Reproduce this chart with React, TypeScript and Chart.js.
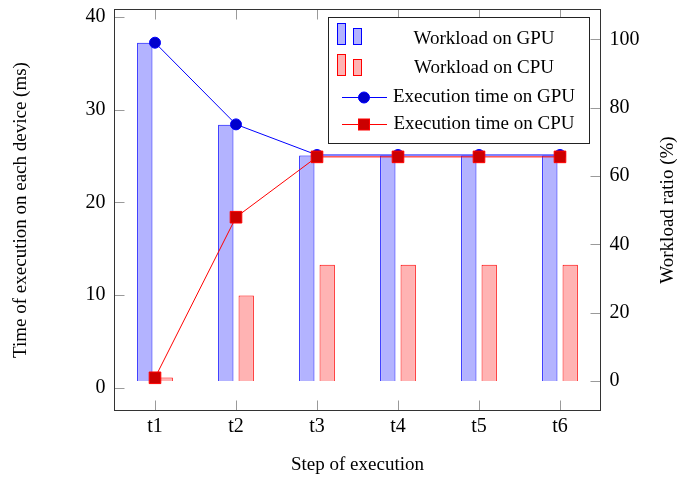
import React, { useEffect, useRef } from 'react';
import { Chart, registerables } from 'chart.js';

Chart.register(...registerables);

// Execution steps and measured values
const steps = ['t1', 't2', 't3', 't4', 't5', 't6'];
const gpuWorkload = [99, 75, 66, 66, 66, 66]; // % of work on GPU
const cpuWorkload = [1, 25, 34, 34, 34, 34]; // % of work on CPU
const gpuTime = [37.2, 28.4, 25.1, 25.1, 25.1, 25.1]; // ms
const cpuTime = [1.1, 18.4, 24.9, 24.9, 24.9, 24.9]; // ms

const timeTicks = [0, 10, 20, 30, 40];
const ratioTicks = [0, 20, 40, 60, 80, 100];

const labels = {
  gpuWork: 'Workload on GPU',
  cpuWork: 'Workload on CPU',
  gpuTime: 'Execution time on GPU',
  cpuTime: 'Execution time on CPU',
  x: 'Step of execution',
  y: 'Time of execution on each device (ms)',
  y1: 'Workload ratio (%)',
};

const SERIF = "'Liberation Serif', 'Times New Roman', serif";
const BLUE = '#0000ff';
const BLUE_FILL = '#b3b3ff';
const BLUE_MARK = '#0000cc';
const RED = '#ff0000';
const RED_FILL = '#ffb3b3';
const RED_MARK = '#cc0000';
const TICK_GRAY = '#9a9a9a';

// Inward tick marks on all four sides of the frame
const tickMarks = {
  id: 'tickMarks',
  beforeDatasetsDraw(chart: any) {
    const { ctx, chartArea: a, scales } = chart;
    const len = 10;
    ctx.save();
    ctx.strokeStyle = TICK_GRAY;
    ctx.lineWidth = 1;
    ctx.beginPath();
    scales.x.ticks.forEach((_: any, i: number) => {
      const x = Math.round(scales.x.getPixelForTick(i)) + 0.5;
      ctx.moveTo(x, a.top);
      ctx.lineTo(x, a.top + len);
      ctx.moveTo(x, a.bottom);
      ctx.lineTo(x, a.bottom - len);
    });
    scales.y.ticks.forEach((t: any) => {
      const y = Math.round(scales.y.getPixelForValue(t.value)) + 0.5;
      ctx.moveTo(a.left, y);
      ctx.lineTo(a.left + len, y);
    });
    scales.y1.ticks.forEach((t: any) => {
      const y = Math.round(scales.y1.getPixelForValue(t.value)) + 0.5;
      ctx.moveTo(a.right, y);
      ctx.lineTo(a.right - len, y);
    });
    ctx.stroke();
    ctx.restore();
  },
};

// Frame, right-hand axis title and the boxed legend
const frameAndLegend = {
  id: 'frameAndLegend',
  afterDraw(chart: any) {
    const { ctx, chartArea: a } = chart;
    ctx.save();

    ctx.strokeStyle = '#333';
    ctx.lineWidth = 1;
    ctx.strokeRect(a.left, a.top, a.right - a.left, a.bottom - a.top);

    ctx.fillStyle = '#000';
    ctx.font = `19px ${SERIF}`;

    // right axis title, reading bottom to top
    ctx.save();
    ctx.translate(672.5, (a.top + a.bottom) / 2);
    ctx.rotate(-Math.PI / 2);
    ctx.textAlign = 'center';
    ctx.textBaseline = 'alphabetic';
    ctx.fillText(labels.y1, 0, 0);
    ctx.restore();

    // legend box
    const bx = 328.5, by = 17.5, bw = 261, bh = 126;
    ctx.fillStyle = '#fff';
    ctx.fillRect(bx, by, bw, bh);
    ctx.strokeStyle = '#222';
    ctx.strokeRect(bx, by, bw, bh);

    const textX = 484;
    const baselines = [44.3, 73.3, 101.7, 129];

    const barIcon = (bottom: number, fill: string, stroke: string) => {
      ctx.fillStyle = fill;
      ctx.strokeStyle = stroke;
      ctx.fillRect(337.5, bottom - 21, 8, 21);
      ctx.strokeRect(337.5, bottom - 21, 8, 21);
      ctx.fillRect(353.5, bottom - 16, 8, 16);
      ctx.strokeRect(353.5, bottom - 16, 8, 16);
    };
    barIcon(44.5, BLUE_FILL, BLUE);
    barIcon(75.5, RED_FILL, RED);

    const lineIcon = (y: number, color: string) => {
      ctx.strokeStyle = color;
      ctx.beginPath();
      ctx.moveTo(342, y);
      ctx.lineTo(387, y);
      ctx.stroke();
    };
    lineIcon(97.5, BLUE);
    ctx.beginPath();
    ctx.arc(364, 97.5, 5.5, 0, Math.PI * 2);
    ctx.fillStyle = BLUE_MARK;
    ctx.fill();
    ctx.strokeStyle = BLUE;
    ctx.stroke();

    lineIcon(124.5, RED);
    ctx.fillStyle = RED_MARK;
    ctx.fillRect(358.5, 119, 11, 11);
    ctx.strokeStyle = RED;
    ctx.strokeRect(358.5, 119, 11, 11);

    ctx.fillStyle = '#000';
    ctx.font = `19px ${SERIF}`;
    ctx.textAlign = 'center';
    ctx.textBaseline = 'alphabetic';
    [labels.gpuWork, labels.cpuWork, labels.gpuTime, labels.cpuTime].forEach((t, i) => {
      ctx.fillText(t, textX, baselines[i]);
    });

    ctx.restore();
  },
};

// Fix an axis box to an exact size with no automatic label padding
const fixWidth = (w: number) => (s: any) => {
  s.width = w;
  s.paddingTop = 0;
  s.paddingBottom = 0;
};
const fixHeight = (h: number) => (s: any) => {
  s.height = h;
  s.paddingLeft = 0;
  s.paddingRight = 0;
};

export default function App() {
  const canvasRef = useRef<HTMLCanvasElement | null>(null);

  useEffect(() => {
    const canvas = canvasRef.current;
    if (!canvas) return;
    const tickFont = { family: SERIF, size: 20 };
    const titleFont = { family: SERIF, size: 19 };

    const chart = new Chart(canvas, {
      type: 'bar',
      data: {
        labels: steps,
        datasets: [
          {
            type: 'line',
            label: labels.cpuTime,
            data: cpuTime,
            yAxisID: 'y',
            order: 0,
            borderColor: RED,
            borderWidth: 1,
            backgroundColor: RED_MARK,
            pointStyle: 'rect',
            pointRadius: 8.2,
            pointBorderColor: RED,
            pointBackgroundColor: RED_MARK,
            pointBorderWidth: 1,
            tension: 0,
          },
          {
            type: 'line',
            label: labels.gpuTime,
            data: gpuTime,
            yAxisID: 'y',
            order: 1,
            borderColor: BLUE,
            borderWidth: 1,
            backgroundColor: BLUE_MARK,
            pointStyle: 'circle',
            pointRadius: 5.5,
            pointBorderColor: BLUE,
            pointBackgroundColor: BLUE_MARK,
            pointBorderWidth: 1,
            tension: 0,
          },
          {
            type: 'bar',
            label: labels.gpuWork,
            data: gpuWorkload,
            yAxisID: 'y1',
            order: 2,
            backgroundColor: BLUE_FILL,
            borderColor: BLUE,
            borderWidth: 1,
            categoryPercentage: 0.504,
            barPercentage: 0.75,
          },
          {
            type: 'bar',
            label: labels.cpuWork,
            data: cpuWorkload,
            yAxisID: 'y1',
            order: 3,
            backgroundColor: RED_FILL,
            borderColor: RED,
            borderWidth: 1,
            categoryPercentage: 0.504,
            barPercentage: 0.75,
          },
        ] as any,
      },
      options: {
        responsive: false,
        animation: false,
        layout: { padding: { top: 9.5, left: 0, right: 0, bottom: 0 }, autoPadding: false } as any,
        plugins: { legend: { display: false }, tooltip: { enabled: false } },
        scales: {
          x: {
            type: 'category',
            offset: true,
            grid: { display: false, drawTicks: false },
            border: { display: false },
            ticks: { color: '#000', font: tickFont, padding: 4, maxRotation: 0 },
            title: {
              display: true,
              text: labels.x,
              color: '#000',
              font: titleFont,
              padding: { top: 0, bottom: 3 },
            },
            afterFit: fixHeight(68.5),
          },
          y: {
            type: 'linear',
            position: 'left',
            min: -2.424,
            max: 40.776,
            grid: { display: false, drawTicks: false },
            border: { display: false },
            ticks: { color: '#000', font: tickFont, padding: 9 },
            afterBuildTicks: (s: any) => { s.ticks = timeTicks.map((v) => ({ value: v })); },
            title: {
              display: true,
              text: labels.y,
              color: '#000',
              font: titleFont,
              padding: { top: 10, bottom: 0 },
            },
            afterFit: fixWidth(114.5),
          },
          y1: {
            type: 'linear',
            position: 'right',
            min: -8.63,
            max: 108.72,
            grid: { display: false, drawTicks: false },
            border: { display: false },
            ticks: { color: '#000', font: tickFont, padding: 9 },
            afterBuildTicks: (s: any) => { s.ticks = ratioTicks.map((v) => ({ value: v })); },
            afterFit: fixWidth(93.5),
          },
        },
      } as any,
      plugins: [tickMarks, frameAndLegend],
    });

    return () => chart.destroy();
  }, []);

  return (
    <div style={{ position: 'fixed', left: 0, top: 0, width: 694, height: 479, background: '#fff' }}>
      <canvas ref={canvasRef} width={694} height={479} style={{ display: 'block' }} />
    </div>
  );
}
